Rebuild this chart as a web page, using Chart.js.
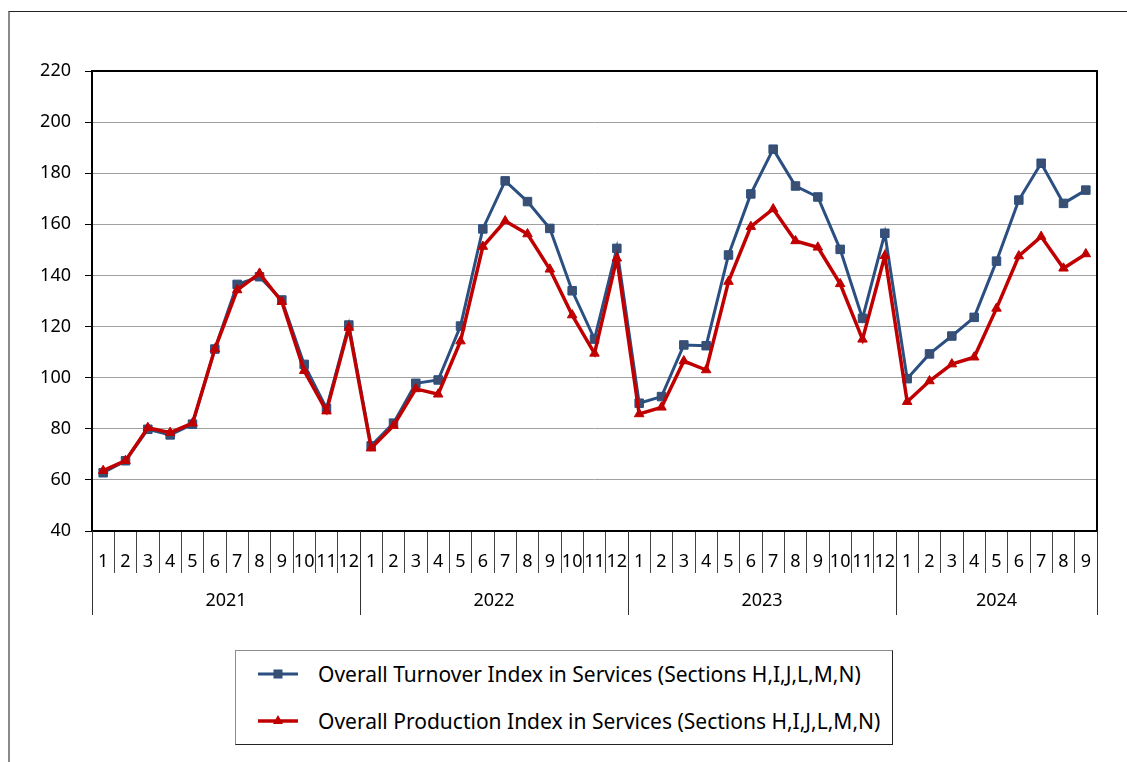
<!DOCTYPE html>
<html>
<head>
<meta charset="utf-8">
<script src="https://cdn.jsdelivr.net/npm/chart.js@4/dist/chart.umd.min.js"></script>
<style>
  body { margin: 0; background: #fff; }
  #wrap { position: relative; width: 1127px; height: 762px; overflow: hidden; font-family: "Noto Sans", sans-serif; }
  #frame { position: absolute; left: 8px; top: 11px; right: -4px; bottom: -4px; border-top: 1.5px solid #222; border-left: 2px solid #8a8a8a; }
  #chart { position: absolute; left: 0; top: 0; }
  #legend { position: absolute; left: 235px; top: 650px; width: 656px; height: 93px; border: 1px solid #8c8c8c; border-right-color: #222; border-bottom-color: #222; background: #fff; }
  .item { position: absolute; left: 22px; height: 28px; display: flex; align-items: center; font-size: 21px; color: #000; white-space: nowrap; }
  .item svg { margin-right: 20px; }
</style>
</head>
<body>
<div id="wrap">
  <div id="frame"></div>
  <canvas id="chart" width="1127" height="640"></canvas>
  <div id="legend">
    <div class="item" style="top:9px">
      <svg width="40" height="14"><line x1="0" y1="7" x2="40" y2="7" stroke="#2a4f80" stroke-width="3"/><rect x="16" y="3" width="8" height="8" fill="#3a4f72" stroke="#2a4f80" stroke-width="1"/></svg>
      <span id="lbl0"></span>
    </div>
    <div class="item" style="top:56px">
      <svg width="40" height="14"><line x1="0" y1="7" x2="40" y2="7" stroke="#c00000" stroke-width="3.5"/><polygon points="20,1 25,10 15,10" fill="#c00000"/></svg>
      <span id="lbl1"></span>
    </div>
  </div>
</div>
<script>
const years = ["2021", "2022", "2023", "2024"];
const monthsPerYear = [12, 12, 12, 9];
const months = [];
monthsPerYear.forEach(n => { for (let m = 1; m <= n; m++) months.push(String(m)); });

const seriesNames = [
  "Overall Turnover Index in Services (Sections H,I,J,L,M,N)",
  "Overall Production Index in Services (Sections H,I,J,L,M,N)"
];

const turnover = [
  62.8, 67.5, 79.8, 77.6, 81.8, 111.2, 136.5, 139.5, 130.4, 105.2, 88.0, 120.6,
  73.3, 82.2, 97.8, 99.1, 120.2, 158.2, 177.0, 168.9, 158.4, 134.0, 115.1, 150.6,
  90.0, 92.6, 112.8, 112.5, 148.0, 171.9, 189.4, 175.0, 170.7, 150.2, 123.2, 156.5,
  99.6, 109.3, 116.3, 123.6, 145.6, 169.5, 183.9, 168.2, 173.4
];
const production = [
  63.6, 67.5, 80.4, 78.5, 82.2, 111.2, 134.3, 140.8, 129.7, 102.7, 86.9, 119.6,
  72.4, 81.2, 95.6, 93.5, 114.3, 151.3, 161.3, 156.2, 142.4, 124.5, 109.5, 146.7,
  85.8, 88.4, 106.5, 103.0, 137.6, 159.1, 166.0, 153.5, 151.0, 136.7, 115.0, 147.7,
  90.6, 98.7, 105.3, 108.0, 127.1, 147.6, 155.2, 142.8, 148.4
];

const yMin = 40, yMax = 220, yStep = 20;

document.getElementById("lbl0").textContent = seriesNames[0];
document.getElementById("lbl1").textContent = seriesNames[1];

const FONT = "'Noto Sans', sans-serif";

// frame round the plot area, year separators and year labels under the months
const axisDecor = {
  id: "axisDecor",
  beforeDatasetsDraw(chart) {
    const { ctx, chartArea: a } = chart;
    ctx.save();
    ctx.strokeStyle = "#000";
    ctx.lineWidth = 2;
    ctx.strokeRect(a.left, a.top, a.right - a.left, a.bottom - a.top);
    ctx.restore();
  },
  afterDraw(chart) {
    const { ctx, chartArea: a } = chart;
    const x = chart.scales.x;
    const edge = i => {
      if (i <= 0) return a.left;
      if (i >= months.length) return a.right;
      return (x.getPixelForValue(i - 1) + x.getPixelForValue(i)) / 2;
    };
    ctx.save();
    ctx.strokeStyle = "#333";
    ctx.lineWidth = 1;
    ctx.fillStyle = "#000";
    ctx.font = "18px " + FONT;
    ctx.textAlign = "center";
    ctx.textBaseline = "middle";
    let start = 0;
    years.forEach((yr, k) => {
      const end = start + monthsPerYear[k];
      const x0 = edge(start), x1 = edge(end);
      [x0, x1].forEach(px => {
        ctx.beginPath();
        ctx.moveTo(Math.round(px) + 0.5, a.bottom);
        ctx.lineTo(Math.round(px) + 0.5, a.bottom + 84);
        ctx.stroke();
      });
      ctx.fillText(yr, (x0 + x1) / 2, a.bottom + 70);
      start = end;
    });
    ctx.restore();
  }
};

new Chart(document.getElementById("chart"), {
  type: "line",
  data: {
    labels: months,
    datasets: [
      {
        label: seriesNames[0],
        data: turnover,
        order: 1,
        borderColor: "#2a4f80",
        borderWidth: 3,
        pointStyle: "rect",
        pointRadius: 6,
        pointBackgroundColor: "#3a4f72",
        pointBorderColor: "#2a4f80",
        pointBorderWidth: 1,
        tension: 0
      },
      {
        label: seriesNames[1],
        data: production,
        order: 0,
        borderColor: "#c00000",
        borderWidth: 3.5,
        pointStyle: "triangle",
        pointRadius: 5.5,
        pointBackgroundColor: "#c00000",
        pointBorderColor: "#c00000",
        pointBorderWidth: 1,
        tension: 0
      }
    ]
  },
  options: {
    responsive: false,
    animation: false,
    layout: { padding: { left: 0, top: 71, right: 30, bottom: 0 } },
    plugins: { legend: { display: false }, tooltip: { enabled: false } },
    scales: {
      x: {
        type: "category",
        offset: true,
        afterFit: s => { s.height = 109; },
        border: { display: false },
        grid: { offset: true, drawOnChartArea: false, drawTicks: true, tickLength: 42, color: "#444", lineWidth: 1 },
        ticks: { autoSkip: false, maxRotation: 0, minRotation: 0, padding: -22, color: "#000", font: { family: FONT, size: 18 } }
      },
      y: {
        min: yMin,
        max: yMax,
        afterFit: s => { s.width = 92; },
        border: { display: false },
        grid: { color: "#a0a0a0", lineWidth: 1, drawTicks: true, tickLength: 7, tickColor: "#000" },
        ticks: { stepSize: yStep, padding: 14, color: "#000", font: { family: FONT, size: 18 } }
      }
    }
  },
  plugins: [axisDecor]
});
</script>
</body>
</html>
